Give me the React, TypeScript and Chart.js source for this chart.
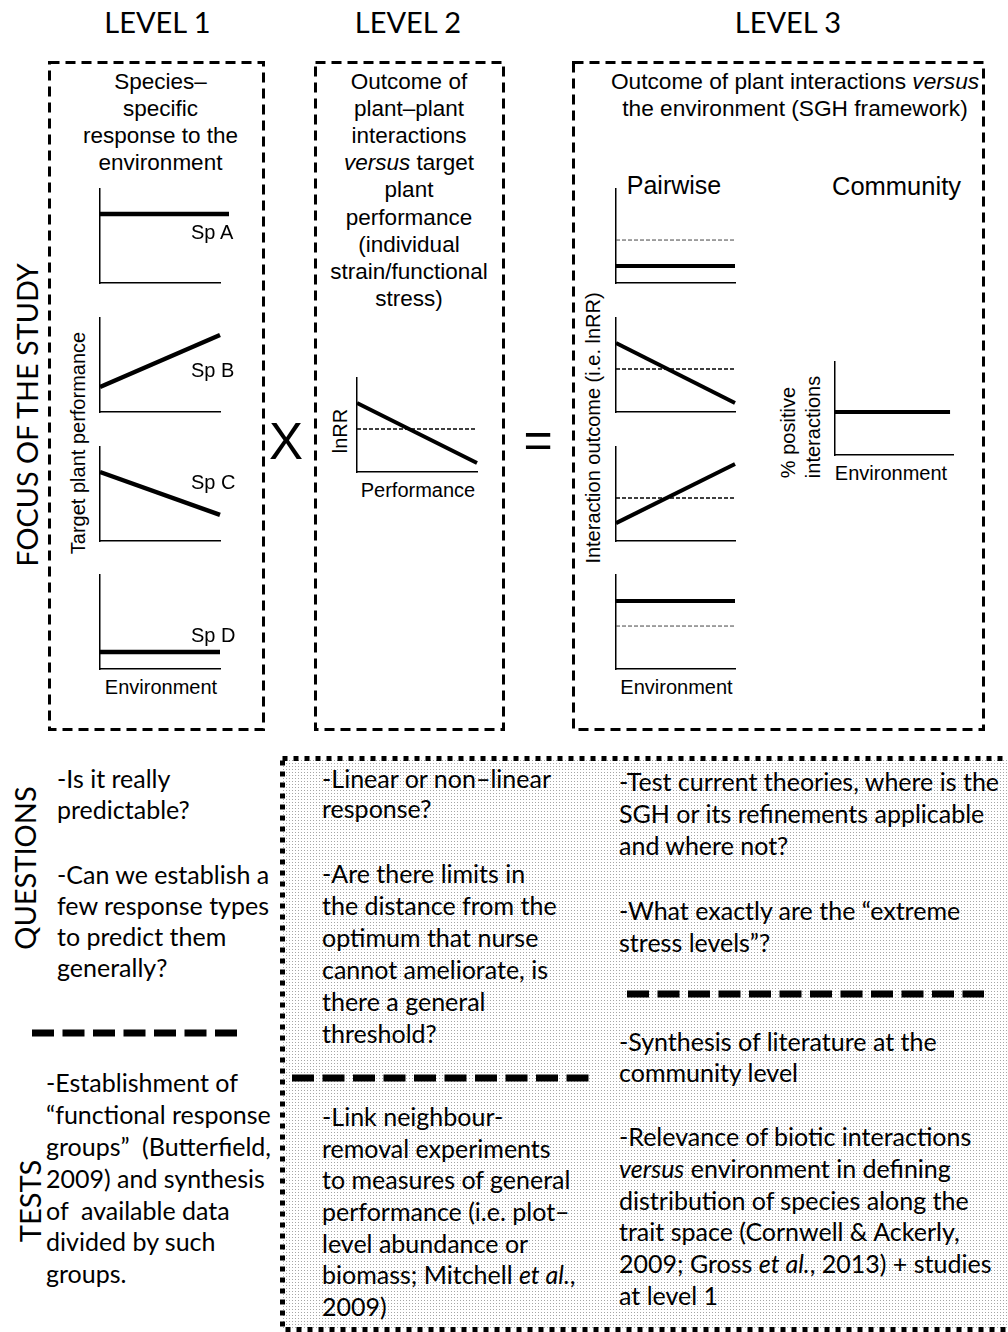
import React, { useEffect, useRef } from 'react';
import { Chart, registerables } from 'chart.js';
Chart.register(...registerables);

// ---------- data (relative units of each mini-axis: 0 = x-axis, 1 = top of y-axis) ----------
const envX = [0, 1];
const spAX = [0, 1.075];
const spA = [0.734, 0.734];
const spB = [0.266, 0.819];
const spC = [0.734, 0.277];
const spD = [0.18, 0.18];
const lnrrPerformance = [0.734, 0.096];
const lnrrZero = [0.457, 0.457];
const pairFlat = [0.18, 0.18];
const pairFlatZero = [0.457, 0.457];
const pairDecrease = [0.734, 0.096];
const pairDecreaseZero = [0.457, 0.457];
const pairIncrease = [0.19, 0.819];
const pairIncreaseZero = [0.457, 0.457];
const pairHigh = [0.723, 0.723];
const pairHighZero = [0.457, 0.457];
const communityX = [0, 0.975];
const communityPositive = [0.462, 0.462];

const levelLabels = ['LEVEL 1', 'LEVEL 2', 'LEVEL 3'];
const speciesLabels = ['Sp A', 'Sp B', 'Sp C', 'Sp D'];

const ARIAL = '"Liberation Sans", Arial, sans-serif';
const CAL = 'Lato, "Open Sans", sans-serif';

type Series = { xs: number[]; ys: number[]; w: number; dash?: number[]; color?: string };

function MiniChart({ x, y, w, h, series }: { x: number; y: number; w: number; h: number; series: Series[] }) {
  const ref = useRef<HTMLCanvasElement>(null);
  const P = { l: 4, r: 14, t: 4, b: 4 };
  const cw = w + P.l + P.r;
  const ch = h + P.t + P.b;
  useEffect(() => {
    const axis: any = {
      type: 'linear', min: 0, max: 1, display: true,
      grid: { display: false, drawTicks: false },
      ticks: { display: false },
      border: { display: true, color: '#000', width: 1.5 },
    };
    const chart = new Chart(ref.current as HTMLCanvasElement, {
      type: 'line',
      data: {
        datasets: series.map((s) => ({
          data: s.xs.map((xv, i) => ({ x: xv, y: s.ys[i] })),
          borderColor: s.color || '#000',
          borderWidth: s.w,
          borderDash: s.dash || [],
          pointRadius: 0,
          fill: false,
          tension: 0,
          clip: false as any,
        })),
      },
      options: {
        animation: false,
        responsive: false,
        events: [],
        layout: { padding: { left: P.l, right: P.r, top: P.t, bottom: P.b } },
        plugins: { legend: { display: false }, tooltip: { enabled: false } },
        scales: { x: { ...axis }, y: { ...axis } },
      } as any,
    });
    return () => chart.destroy();
  }, []);
  return (
    <canvas
      ref={ref}
      width={cw}
      height={ch}
      style={{ position: 'absolute', left: x - P.l, top: y - P.t, width: cw, height: ch }}
    />
  );
}

function rich(s: string) {
  const parts = s.split('_');
  return parts.map((p, i) => (i % 2 === 1 ? <i key={i}>{p}</i> : <React.Fragment key={i}>{p}</React.Fragment>));
}

function Txt({ x, y, size, family = ARIAL, align = 'center', rotate = false, children, style }: any) {
  const tx = align === 'center' ? '-50%' : '0';
  return (
    <div
      style={{
        position: 'absolute', left: x, top: y, fontSize: size, fontFamily: family, lineHeight: 1,
        whiteSpace: 'pre', color: '#000',
        transform: `translate(${tx}, -50%)${rotate ? ' rotate(-90deg)' : ''}`,
        ...style,
      }}
    >
      {children}
    </div>
  );
}

const leftQuestions: [string, number][] = [
  ['-Is it really', 778], ['predictable?', 809], ['-Can we establish a', 874], ['few response types', 905],
  ['to predict them', 936], ['generally?', 967],
];
const leftTests: [string, number][] = [
  ['-Establishment of', 1082], ['“functional response', 1114], ['groups”  (Butterfield,', 1146],
  ['2009) and synthesis', 1178], ['of  available data', 1210], ['divided by such', 1241], ['groups.', 1273],
];
const midLines: [string, number][] = [
  ['-Linear or non–linear', 778], ['response?', 808], ['-Are there limits in', 873], ['the distance from the', 905],
  ['optimum that nurse', 937], ['cannot ameliorate, is', 969], ['there a general', 1001], ['threshold?', 1033],
  ['-Link neighbour-', 1116], ['removal experiments', 1148], ['to measures of general', 1179],
  ['performance (i.e. plot–', 1211], ['level abundance or', 1243], ['biomass; Mitchell _et al._,', 1274], ['2009)', 1306],
];
const rightLines: [string, number][] = [
  ['-Test current theories, where is the', 781], ['SGH or its refinements applicable', 813], ['and where not?', 845],
  ['-What exactly are the “extreme', 910], ['stress levels”?', 942], ['-Synthesis of literature at the', 1041],
  ['community level', 1072], ['-Relevance of biotic interactions', 1136], ['_versus_ environment in defining', 1168],
  ['distribution of species along the', 1200], ['trait space (Cornwell & Ackerly,', 1231],
  ['2009; Gross _et al._, 2013) + studies', 1263], ['at level 1', 1295],
];

const box1 = ['Species–', 'specific', 'response to the', 'environment'];
const box2 = ['Outcome of', 'plant–plant', 'interactions', '_versus_ target', 'plant', 'performance', '(individual', 'strain/functional', 'stress)'];
const box3 = ['Outcome of plant interactions _versus_', 'the environment (SGH framework)'];

export default function App() {
  const thick = 4.5;
  const thick3 = 4;
  const bodySize = 25;
  return (
    <div style={{ position: 'absolute', left: 0, top: 0, width: 1008, height: 1332, overflow: 'hidden', background: '#fff' }}>
      <svg width={1008} height={1332} style={{ position: 'absolute', left: 0, top: 0 }}>
        <defs>
          <pattern id="dots" x="0" y="0" width="3" height="3" patternUnits="userSpaceOnUse">
            <rect x="1" y="1" width="1" height="1" fill="#a6a6a6" />
          </pattern>
        </defs>
        <rect x={282.5} y={758.5} width={780} height={571} fill="url(#dots)" stroke="#000" strokeWidth={5} strokeDasharray="5 6" />
        <rect x={49.5} y={62.5} width={214} height={667} fill="none" stroke="#000" strokeWidth={3} strokeDasharray="10 6" />
        <rect x={315.5} y={62.5} width={188} height={667} fill="none" stroke="#000" strokeWidth={3} strokeDasharray="10 6" />
        <rect x={573.5} y={62.5} width={410} height={667} fill="none" stroke="#000" strokeWidth={3} strokeDasharray="10 6" />
        <line x1={32} y1={1033} x2={238} y2={1033} stroke="#000" strokeWidth={7} strokeDasharray="22 8.5" />
        <line x1={292} y1={1078} x2={594} y2={1078} stroke="#000" strokeWidth={7} strokeDasharray="22 8.5" />
        <line x1={627} y1={994} x2={984} y2={994} stroke="#000" strokeWidth={7} strokeDasharray="22 8.5" />
      </svg>

      {/* Level titles */}
      <Txt x={157.5} y={20.5} size={29} family={CAL}>{levelLabels[0]}</Txt>
      <Txt x={408} y={20.5} size={29} family={CAL}>{levelLabels[1]}</Txt>
      <Txt x={788} y={20.5} size={29} family={CAL}>{levelLabels[2]}</Txt>

      {/* Left rotated labels */}
      <Txt x={27} y={415} size={28.8} family={CAL} rotate>FOCUS OF THE STUDY</Txt>
      <Txt x={24} y={867.5} size={29} family={CAL} rotate>QUESTIONS</Txt>
      <Txt x={29} y={1201} size={29} family={CAL} rotate>TESTS</Txt>

      {/* Box titles */}
      {box1.map((t, i) => (
        <Txt key={'b1' + i} x={160.5} y={82 + i * 27} size={22.5}>{rich(t)}</Txt>
      ))}
      {box2.map((t, i) => (
        <Txt key={'b2' + i} x={409} y={82 + i * 27.1} size={22.5}>{rich(t)}</Txt>
      ))}
      {box3.map((t, i) => (
        <Txt key={'b3' + i} x={795} y={81 + i * 27} size={22.7}>{rich(t)}</Txt>
      ))}

      {/* Level 1 charts */}
      <MiniChart x={100} y={189} w={120} h={94} series={[{ xs: spAX, ys: spA, w: thick }]} />
      <MiniChart x={100} y={318} w={120} h={94} series={[{ xs: envX, ys: spB, w: thick }]} />
      <MiniChart x={100} y={447} w={120} h={94} series={[{ xs: envX, ys: spC, w: thick }]} />
      <MiniChart x={100} y={575} w={120} h={94} series={[{ xs: envX, ys: spD, w: thick }]} />
      <Txt x={191} y={232} size={20} align="left">{speciesLabels[0]}</Txt>
      <Txt x={191} y={370} size={20} align="left">{speciesLabels[1]}</Txt>
      <Txt x={191} y={482} size={20} align="left">{speciesLabels[2]}</Txt>
      <Txt x={191} y={635} size={20} align="left">{speciesLabels[3]}</Txt>
      <Txt x={161} y={687} size={20}>Environment</Txt>
      <Txt x={78} y={443} size={20} rotate>Target plant performance</Txt>

      <Txt x={286} y={441} size={51}>X</Txt>
      <Txt x={538} y={440} size={50}>=</Txt>

      {/* Level 2 chart */}
      <MiniChart
        x={357} y={378} w={120} h={94}
        series={[
          { xs: envX, ys: lnrrZero, w: 1.5, dash: [4, 2] },
          { xs: envX, ys: lnrrPerformance, w: thick3 },
        ]}
      />
      <Txt x={340} y={431} size={20} rotate>lnRR</Txt>
      <Txt x={418} y={490} size={20}>Performance</Txt>

      {/* Level 3 */}
      <Txt x={674} y={185} size={25}>Pairwise</Txt>
      <Txt x={896.5} y={187} size={25.5}>Community</Txt>
      <MiniChart x={616} y={189} w={119} h={94}
        series={[{ xs: envX, ys: pairFlatZero, w: 1, dash: [4, 2], color: '#444' }, { xs: envX, ys: pairFlat, w: thick3 }]} />
      <MiniChart x={616} y={318} w={119} h={94}
        series={[{ xs: envX, ys: pairDecreaseZero, w: 1.5, dash: [4, 2] }, { xs: envX, ys: pairDecrease, w: thick3 }]} />
      <MiniChart x={616} y={447} w={119} h={94}
        series={[{ xs: envX, ys: pairIncreaseZero, w: 1.5, dash: [4, 2] }, { xs: envX, ys: pairIncrease, w: thick3 }]} />
      <MiniChart x={616} y={575} w={119} h={94}
        series={[{ xs: envX, ys: pairHighZero, w: 1, dash: [4, 2], color: '#444' }, { xs: envX, ys: pairHigh, w: thick3 }]} />
      <Txt x={676.5} y={687} size={20}>Environment</Txt>
      <Txt x={593} y={427.5} size={20} rotate>Interaction outcome (i.e. lnRR)</Txt>

      <MiniChart x={835} y={362} w={118} h={93} series={[{ xs: communityX, ys: communityPositive, w: thick3 }]} />
      <div
        style={{
          position: 'absolute', left: 800.5, top: 427, fontFamily: ARIAL, fontSize: 20, lineHeight: '25px',
          whiteSpace: 'nowrap', textAlign: 'left', transform: 'translate(-50%, -50%) rotate(-90deg)',
        }}
      >
        % positive<br />interactions
      </div>
      <Txt x={891} y={473} size={20}>Environment</Txt>

      {/* Bottom text */}
      {leftQuestions.map(([t, y], i) => (
        <Txt key={'lq' + i} x={57} y={y} size={bodySize} family={CAL} align="left">{rich(t)}</Txt>
      ))}
      {leftTests.map(([t, y], i) => (
        <Txt key={'lt' + i} x={46} y={y} size={bodySize} family={CAL} align="left">{rich(t)}</Txt>
      ))}
      {midLines.map(([t, y], i) => (
        <Txt key={'m' + i} x={322} y={y} size={bodySize} family={CAL} align="left">{rich(t)}</Txt>
      ))}
      {rightLines.map(([t, y], i) => (
        <Txt key={'r' + i} x={619} y={y} size={bodySize} family={CAL} align="left">{rich(t)}</Txt>
      ))}
    </div>
  );
}
